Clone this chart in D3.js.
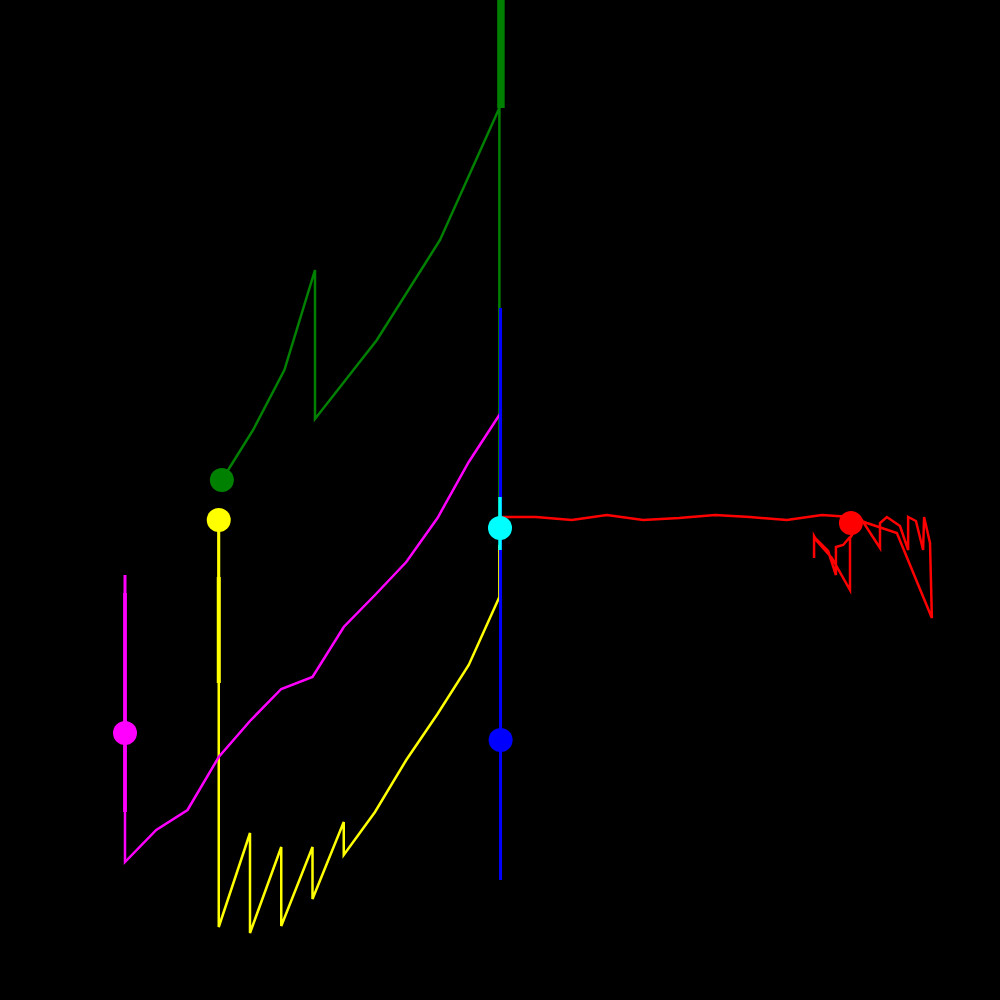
<!DOCTYPE html>
<html><head><meta charset="utf-8">
<script src="https://cdn.jsdelivr.net/npm/d3@7/dist/d3.min.js"></script>
<style>html,body{margin:0;padding:0;background:#000;}svg{display:block;}</style>
</head><body>
<script>
// x in steps (t), y in value units (v)
const greenT = [3.1, 4.1, 5.1, 6.08, 6.08, 8.06, 10.08, 11.98, 11.98];
const greenV = [52, 57, 63, 73, 58.1, 66, 76, 89.2, 48];
const greenRange = {t: 12.03, lo: 89.2, hi: 101, q1: 89.2, q3: 101};

const yellowT = [3, 3, 4, 4, 5, 5, 6, 6, 7, 7, 8, 9, 10, 11, 11.98, 11.98];
const yellowV = [48, 7.3, 16.7, 6.7, 15.3, 7.4, 15.3, 10.1, 17.8, 14.5, 18.8, 24, 28.6, 33.5, 40.3, 45.5];
const yellowRange = {t: 3, lo: 31.7, hi: 48, q1: 31.7, q3: 42.3};

const magentaT = [0, 0, 1, 2, 3, 4, 5, 6, 7, 8, 9, 10, 11, 12.02, 12.02];
const magentaV = [26.7, 13.8, 17, 19, 24.3, 27.9, 31.1, 32.3, 37.3, 40.5, 43.8, 48.2, 53.8, 58.7, 44.5];
const magentaRange = {t: 0, lo: 18.8, hi: 42.5, q1: 18.8, q3: 40.7};

const redT = [12, 13.15, 14.3, 15.42, 16.58, 17.73, 18.88, 20.0, 21.18, 22.3, 23.23, 23.74, 24.7, 25.82, 25.76, 25.57, 25.54, 25.31, 25.06, 25.06, 24.8, 24.38, 24.16, 24.16, 23.58, 23.2, 23.2, 22.62, 22.14, 22.05, 22.05, 22.05, 22.5, 22.75, 22.75, 22.98, 23.2];
const redV = [48.3, 48.3, 48.0, 48.5, 48.0, 48.2, 48.5, 48.3, 48.0, 48.5, 48.3, 47.7, 46.7, 38.2, 45.7, 48.3, 45.0, 47.9, 48.3, 45.0, 47.4, 48.3, 47.7, 45.2, 48.0, 46.2, 41.0, 44.2, 45.9, 46.4, 44.2, 46.3, 44.9, 42.5, 45.3, 45.5, 46.3];

const blueRange = {t: 12.02, lo: 12, hi: 69.2, q1: 12, q3: 69.2};
const cyanRange = {t: 12, lo: 45, hi: 50.3, q1: 45, q3: 50.3};

const dotsT = [3.1, 3, 0, 23.23, 12.02, 12];
const dotsV = [52, 48, 26.7, 47.7, 26, 47.2];
const dotColors = ["#008000", "#ffff00", "#ff00ff", "#ff0000", "#0000ff", "#00ffff"];

const W = 1000, H = 1000;
const x = d3.scaleLinear().domain([0, 12]).range([125, 500]);
const y = d3.scaleLinear().domain([0, 100]).range([1000, 0]);

const svg = d3.select("body").append("svg").attr("width", W).attr("height", H)
  .style("background", "#000");
svg.append("rect").attr("width", W).attr("height", H).attr("fill", "#000");

const line = d3.line().x(d => x(d[0])).y(d => y(d[1]));
function path(ts, vs, color, w) {
  svg.append("path").datum(d3.zip(ts, vs)).attr("d", line)
    .attr("fill", "none").attr("stroke", color).attr("stroke-width", w)
    .attr("stroke-linejoin", "miter").attr("stroke-miterlimit", 4);
}
function range(r, color, ww, bw) {
  svg.append("line").attr("x1", x(r.t)).attr("x2", x(r.t))
    .attr("y1", y(r.lo)).attr("y2", y(r.hi)).attr("stroke", color).attr("stroke-width", ww);
  svg.append("line").attr("x1", x(r.t)).attr("x2", x(r.t))
    .attr("y1", y(r.q1)).attr("y2", y(r.q3)).attr("stroke", color).attr("stroke-width", bw);
}

path(greenT, greenV, "#008000", 2.5);
range(greenRange, "#008000", 7, 7);
path(yellowT, yellowV, "#ffff00", 2.5);
range(yellowRange, "#ffff00", 3, 4);
path(magentaT, magentaV, "#ff00ff", 2.5);
range(magentaRange, "#ff00ff", 3, 3.6);
path(redT, redV, "#ff0000", 2.5);
range(blueRange, "#0000ff", 2.8, 2.8);
range(cyanRange, "#00ffff", 3, 3);

svg.selectAll("circle.dot").data(d3.range(dotsT.length)).join("circle")
  .attr("class", "dot")
  .attr("cx", i => x(dotsT[i])).attr("cy", i => y(dotsV[i]))
  .attr("r", 12).attr("fill", i => dotColors[i]);
</script>
</body></html>
